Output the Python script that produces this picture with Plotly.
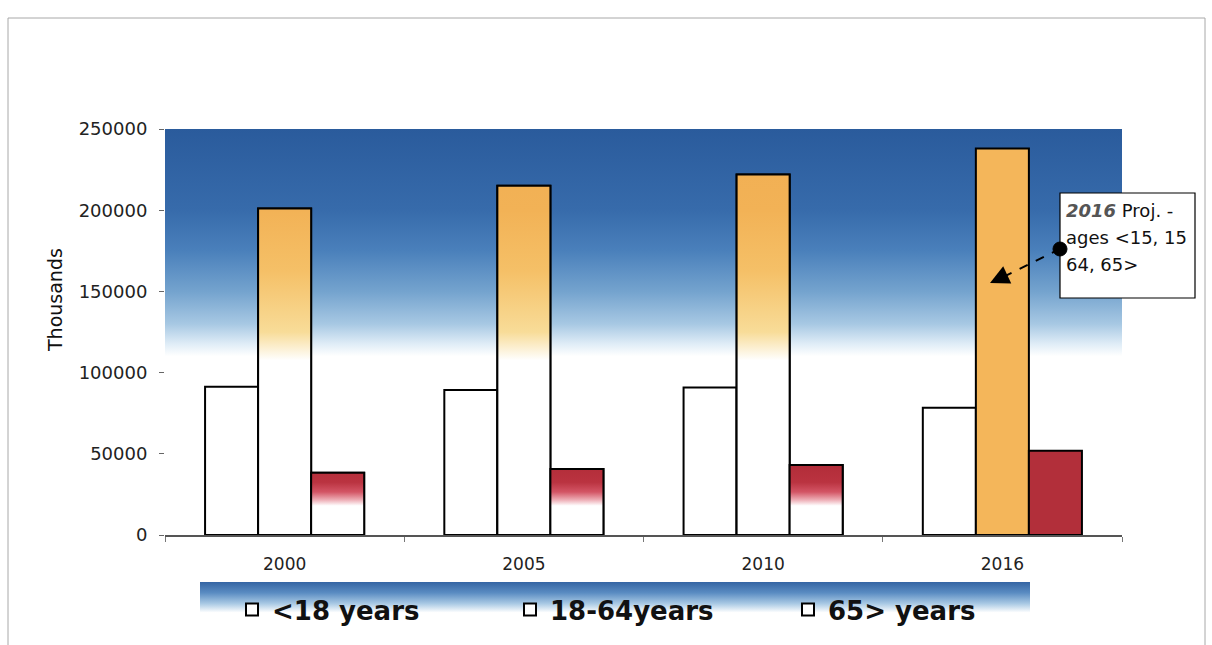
import base64
import plotly.graph_objects as go

# ---------------- data ----------------
years = ["2000", "2005", "2010", "2016"]
projected = [False, False, False, True]
under18 = [91300, 89300, 90900, 78400]
age18_64 = [201000, 215000, 222000, 238000]
over65 = [38400, 40600, 43100, 51900]
series_names = ["<18 years", "18-64years", "65> years"]
y_ticks = [0, 50000, 100000, 150000, 200000, 250000]
note_lines = ["<span style='color:#555'><b><i>2016</i></b></span> Proj. -", "ages &lt;15, 15", "64, 65&gt;"]

# ---------------- style ----------------
FONT = "DejaVu Sans"
ORANGE = "#f4b65a"
RED = "#b22f3a"
BARGAP = 0.335
W, H = 1212, 645
ML, MR, MT, MB = 165, 90, 129, 110
PW, PH = W - ML - MR, H - MT - MB


def px_x(p):
    return (p - ML) / PW


def px_y(p):
    return (H - MB - p) / PH


def svg_uri(svg):
    return "data:image/svg+xml;base64," + base64.b64encode(svg.encode()).decode()


bg_svg = (
    '<svg xmlns="http://www.w3.org/2000/svg" width="957" height="406" viewBox="0 0 957 406" preserveAspectRatio="none">'
    '<defs><linearGradient id="g" x1="0" y1="0" x2="0" y2="1">'
    '<stop offset="0" stop-color="#2a5b9c"/>'
    '<stop offset="0.2" stop-color="#376bab"/>'
    '<stop offset="0.3" stop-color="#4a80bb"/>'
    '<stop offset="0.4" stop-color="#74a3ce"/>'
    '<stop offset="0.48" stop-color="#a7c8e3"/>'
    '<stop offset="0.53" stop-color="#e0edf7"/>'
    '<stop offset="0.56" stop-color="#ffffff"/>'
    '<stop offset="1" stop-color="#ffffff"/>'
    '</linearGradient></defs><rect width="957" height="406" fill="url(#g)"/></svg>'
)
band_svg = (
    '<svg xmlns="http://www.w3.org/2000/svg" width="830" height="36" viewBox="0 0 830 36" preserveAspectRatio="none">'
    '<defs><linearGradient id="b" x1="0" y1="0" x2="0" y2="1">'
    '<stop offset="0" stop-color="#3565a4"/>'
    '<stop offset="0.3" stop-color="#5a8cc2"/>'
    '<stop offset="0.6" stop-color="#a9c9e4"/>'
    '<stop offset="0.85" stop-color="#ffffff"/>'
    '<stop offset="1" stop-color="#ffffff"/>'
    '</linearGradient></defs><rect width="830" height="36" fill="url(#b)"/></svg>'
)

fig = go.Figure()
idx = list(range(len(years)))
all_series = [under18, age18_64, over65]
solid_colors = ["white", ORANGE, RED]

for k, (name, vals) in enumerate(zip(series_names, all_series)):
    cols = [solid_colors[k] if p else "white" for p in projected]
    fig.add_trace(go.Bar(
        x=idx, y=vals, name=name,
        marker=dict(color=cols, line=dict(color="black", width=2)),
        hoverinfo="skip",
    ))

# gradient overlays for the non-projected coloured bars
bw = (1 - BARGAP) / 3
grad_defs = {
    1: dict(start=0, stop=250000, colorscale=[[0, "white"], [0.43, "white"], [0.5, "#f8dc98"],
                                               [0.65, "#f5c067"], [0.8, "#f2b256"], [1, "#f1ae52"]]),
    2: dict(start=0, stop=50000, colorscale=[[0, "white"], [0.36, "white"], [0.43, "#eeb0b8"],
                                              [0.53, "#d35565"], [0.65, "#ba3340"], [1, "#ad2834"]]),
}
for k, g in grad_defs.items():
    vals = all_series[k]
    for i, p in enumerate(projected):
        if p:
            continue
        c = i + (k - 1) * bw
        x0, x1 = c - bw / 2, c + bw / 2
        top = vals[i]
        fig.add_trace(go.Scatter(
            x=[x0, x1, x1, x0, x0], y=[0, 0, top, top, 0],
            mode="lines", fill="toself",
            fillgradient=dict(type="vertical", start=g["start"], stop=g["stop"], colorscale=g["colorscale"]),
            line=dict(color="black", width=2),
            showlegend=False, hoverinfo="skip",
        ))


# annotation arrow geometry (pixel positions converted to data)
def dx(p):
    return (p - ML) / PW * 4 - 0.5


def dy(p):
    return (H - MB - p) / PH * 250000


tail_x, tail_y = dx(1060), dy(249)
head_x, head_y = dx(990), dy(283)
mid_x, mid_y = dx(1001), dy(278)

shapes = [
    dict(type="rect", xref="paper", yref="paper", x0=px_x(8), x1=px_x(1205), y0=px_y(660), y1=px_y(18),
         line=dict(color="#a8a8a8", width=1), fillcolor="rgba(0,0,0,0)", layer="below"),
    dict(type="rect", xref="paper", yref="paper", x0=px_x(1060), x1=px_x(1195), y0=px_y(298), y1=px_y(193),
         line=dict(color="black", width=1.2), fillcolor="white", layer="above"),
    dict(type="line", xref="x", yref="y", x0=tail_x, y0=tail_y, x1=mid_x, y1=mid_y,
         line=dict(color="black", width=2, dash="dash")),
    dict(type="circle", xref="x", yref="y", xsizemode="pixel", ysizemode="pixel",
         xanchor=tail_x, yanchor=tail_y, x0=-7, x1=7, y0=-7, y1=7,
         fillcolor="black", line=dict(color="black", width=1)),
]

annotations = [
    dict(x=head_x, y=head_y, xref="x", yref="y", text="", showarrow=True,
         ax=15, ay=-7, arrowhead=2, arrowsize=1.9, arrowwidth=2, arrowcolor="black"),
    dict(x=px_x(55), y=px_y(300), xref="paper", yref="paper", text="Thousands", textangle=-90,
         showarrow=False, xanchor="center", yanchor="middle",
         font=dict(family=FONT, size=19, color="#111")),
]
for line_text, ypx in zip(note_lines, [210, 237, 264]):
    annotations.append(dict(
        x=px_x(1064), y=px_y(ypx), xref="paper", yref="paper", xanchor="left", yanchor="middle",
        text=line_text, showarrow=False, align="left",
        font=dict(family=FONT, size=18, color="#111"),
    ))

fig.update_layout(
    width=W, height=H,
    margin=dict(l=ML, r=MR, t=MT, b=MB, autoexpand=False),
    paper_bgcolor="white", plot_bgcolor="rgba(0,0,0,0)",
    barmode="group", bargap=BARGAP, bargroupgap=0,
    font=dict(family=FONT, color="#111"),
    xaxis=dict(range=[-0.5, 3.5], tickvals=idx, ticktext=years, showgrid=False, zeroline=False,
               showline=True, linecolor="#555", linewidth=1.5, ticks="",
               minor=dict(tick0=0.5, dtick=1, ticks="outside", ticklen=5, tickcolor="#777"),
               tickfont=dict(family=FONT, size=17, color="#222"), ticklabelstandoff=13),
    yaxis=dict(range=[0, 250000], tickvals=y_ticks, tickformat="d", showgrid=False, zeroline=False,
               showline=False, ticks="outside", ticklen=5, tickcolor="#666",
               tickfont=dict(family=FONT, size=18, color="#222"), ticklabelstandoff=8),
    legend=dict(orientation="h", x=px_x(232), y=px_y(586), xanchor="left", yanchor="top",
                bgcolor="rgba(0,0,0,0)", entrywidth=233, entrywidthmode="pixels",
                font=dict(family=FONT, size=26, color="#111", weight="bold")),
    images=[
        dict(source=svg_uri(bg_svg), xref="paper", yref="paper", x=0, y=1, sizex=1, sizey=1,
             sizing="stretch", layer="below", xanchor="left", yanchor="top"),
        dict(source=svg_uri(band_svg), xref="paper", yref="paper", x=px_x(200), y=px_y(582),
             sizex=(1030 - 200) / PW, sizey=36 / PH, sizing="stretch", layer="below",
             xanchor="left", yanchor="top"),
    ],
    shapes=shapes,
    annotations=annotations,
    showlegend=True,
)

fig.write_html("out.html")
